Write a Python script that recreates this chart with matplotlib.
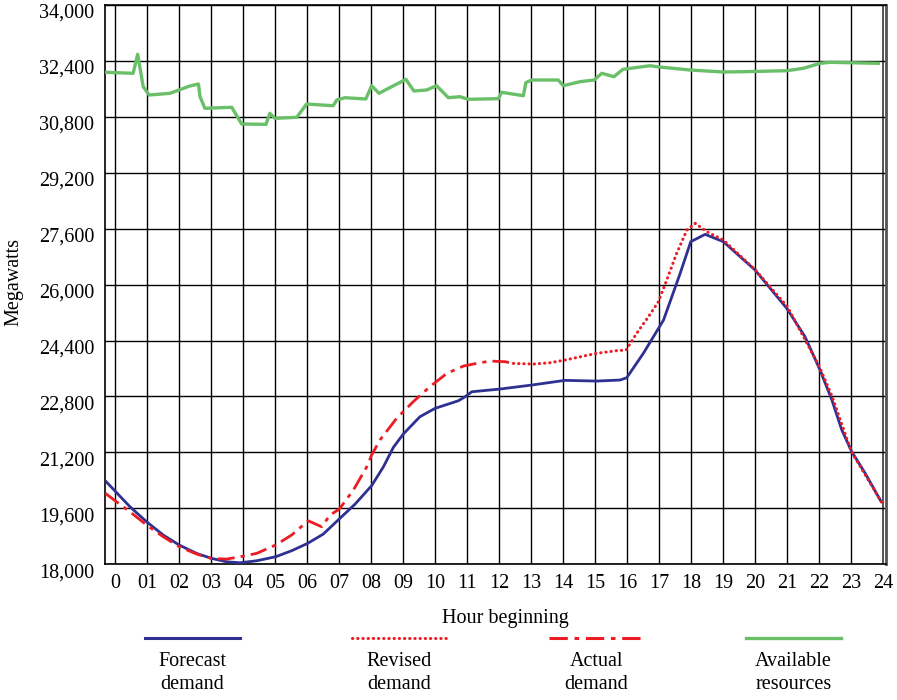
#!/usr/bin/env python3
"""Hourly demand vs available resources chart."""

import matplotlib

matplotlib.use("Agg")
import matplotlib.pyplot as plt
from matplotlib.lines import Line2D
from matplotlib.transforms import ScaledTranslation

# ---- data ----
hour_labels = ["0"] + [f"{h:02d}" for h in range(1, 25)]
y_ticks = [18000, 19600, 21200, 22800, 24400, 26000, 27600, 29200, 30800, 32400, 34000]

forecast_hours = [-0.31, 0.46, 0.98, 1.5, 2.0, 2.54, 3.01, 3.48, 3.9, 4.42, 5.01, 5.51,
                  6.01, 6.5, 7.0, 7.49, 8.01, 8.38, 8.69, 9.0, 9.52, 9.99, 10.72,
                  10.93, 11.14, 12.02, 13.01, 14.05, 15.04, 15.77, 15.98, 16.5, 17.13,
                  17.65, 17.98, 18.43, 19.0, 19.99, 20.98, 21.55, 22.02, 22.39, 22.7,
                  23.01, 23.43, 23.9]
forecast_mw = [20391, 19648, 19219, 18839, 18553, 18315, 18172, 18075, 18047, 18104,
               18218, 18390, 18600, 18867, 19300, 19720, 20250, 20792, 21346, 21727,
               22222, 22460, 22678, 22792, 22935, 23013, 23127, 23261, 23241, 23270,
               23336, 24034, 24986, 26321, 27225, 27435, 27225, 26415, 25320, 24508,
               23556, 22699, 21841, 21221, 20603, 19840]

actual_hours = [-0.31, 0.46, 0.98, 1.5, 2.0, 2.54, 3.0, 3.48, 3.9, 4.42, 5.01, 5.51,
                6.03, 6.45, 6.71, 7.0, 7.44, 7.86, 8.01, 8.27, 8.79, 9.31, 9.83, 10.36,
                10.88, 11.29, 11.71, 12.18, 12.44]
actual_mw = [20031, 19505, 19125, 18791, 18505, 18296, 18172, 18152, 18218, 18315,
             18553, 18839, 19247, 19076, 19410, 19580, 20125, 20792, 21126, 21555,
             22175, 22651, 23079, 23460, 23670, 23746, 23813, 23794, 23746]

revised_hours = [12.44, 13.06, 13.58, 14.05, 15.04, 15.67, 15.96, 16.29, 16.66, 16.97,
                 17.23, 17.54, 17.86, 18.12, 18.48, 19.0, 20.0, 21.0, 22.0, 22.4,
                 23.0, 23.95]
revised_mw = [23746, 23727, 23765, 23842, 24034, 24110, 24128, 24605, 25082, 25509,
              26130, 26893, 27559, 27750, 27511, 27273, 26415, 25367, 23651, 22793,
              21221, 19764]

available_hours = [-0.27, 0.56, 0.70, 0.875, 1.06, 1.71, 2.33, 2.6, 2.65, 2.8, 3.64,
                   3.95, 4.71, 4.83, 4.99, 5.67, 5.98, 6.81, 6.92, 7.18, 7.83, 8.01,
                   8.24, 9.08, 9.33, 9.73, 10.04, 10.41, 10.77, 11.03, 11.97, 12.07,
                   12.75, 12.83, 13.01, 13.84, 14.0, 14.52, 14.96, 15.2, 15.58, 15.86,
                   16.71, 16.92, 17.96, 19.0, 19.63, 20.98, 21.5, 22.02, 22.33, 23.84]
available_mw = [32067, 32039, 32582, 31656, 31418, 31467, 31676, 31733, 31370, 31038,
                31067, 30589, 30580, 30895, 30752, 30781, 31161, 31112, 31275, 31341,
                31304, 31684, 31467, 31867, 31533, 31561, 31684, 31341, 31370, 31296,
                31313, 31496, 31398, 31772, 31847, 31847, 31684, 31799, 31847, 32039,
                31941, 32153, 32256, 32227, 32133, 32076, 32085, 32113, 32182, 32325,
                32353, 32325]

legend_labels = ["Forecast\ndemand", "Revised\ndemand", "Actual\ndemand", "Available\nresources"]

# ---- styles ----
BLUE = "#2e3192"
RED = "#ed1c24"
GREEN = "#6abf69"
FONT = "Liberation Serif"
FS = 14.5
DOTTED = (0, (0.1, 1.6))
DASHDOT = (0, (6, 2.2, 1.5, 2.2))

plt.rcParams["font.family"] = [FONT, "DejaVu Serif"]

W, H = 897, 700
fig = plt.figure(figsize=(W / 100, H / 100), dpi=100)
ax = fig.add_axes([105.3 / W, (H - 564.4) / H, (886 - 105.3) / W, (564.4 - 4.7) / H])

# grid
for h in range(0, 24):
    ax.axvline(h, color="black", lw=1.0, zorder=1)
ax.axvline(24, color="#555555", lw=1.4, zorder=1)
for v in y_ticks:
    ax.axhline(v, color="black", lw=1.0, zorder=1)

ax.plot(available_hours, available_mw, color=GREEN, lw=2.4, zorder=3,
        solid_joinstyle="round")
ax.plot(forecast_hours, forecast_mw, color=BLUE, lw=2.0, zorder=3,
        solid_joinstyle="round")
ax.plot(actual_hours, actual_mw, color=RED, lw=2.0, zorder=4, linestyle=DASHDOT)
ax.plot(revised_hours, revised_mw, color=RED, lw=2.2, zorder=4,
        linestyle=DOTTED, dash_capstyle="round")

ax.set_xlim(-0.31, 24.08)
ax.set_ylim(18000, 34000)

ax.set_xticks(range(25))
ax.set_xticklabels(hour_labels)
ax.set_yticks(y_ticks)
ax.set_yticklabels([f"{v:,}" for v in y_ticks])
ax.tick_params(axis="both", length=0, labelsize=FS)
ax.tick_params(axis="y", pad=8)
ax.tick_params(axis="x", pad=7)
shift = ScaledTranslation(0, -6 / 100, fig.dpi_scale_trans)
for lbl in ax.get_yticklabels():
    lbl.set_transform(lbl.get_transform() + shift)

for side in ["left", "top", "bottom"]:
    ax.spines[side].set_color("black")
    ax.spines[side].set_linewidth(1.2)
ax.spines["right"].set_color("#555555")
ax.spines["right"].set_linewidth(2.0)

fig.text(14 / W, 1 - 282 / H, "Megawatts", rotation=90, ha="center", va="center",
         fontsize=FS)
fig.text(505 / W, 1 - 618 / H, "Hour beginning", ha="center", va="center", fontsize=FS)

# legend below the chart
legend_x = [(145, 240), (352, 447), (549, 644), (746, 841)]
legend_style = [
    dict(color=BLUE, lw=2.2),
    dict(color=RED, lw=2.2, linestyle=DOTTED, dash_capstyle="round"),
    dict(color=RED, lw=2.2, linestyle=DASHDOT),
    dict(color=GREEN, lw=2.4),
]
for (x0, x1), st, text in zip(legend_x, legend_style, legend_labels):
    y = 1 - 638 / H
    fig.add_artist(Line2D([x0 / W, x1 / W], [y, y], transform=fig.transFigure, **st))
    fig.text((x0 + x1) / 2 / W, 1 - 673 / H, text, ha="center", va="center",
             fontsize=FS, linespacing=1.35)

fig.savefig("out.png", dpi=100)
